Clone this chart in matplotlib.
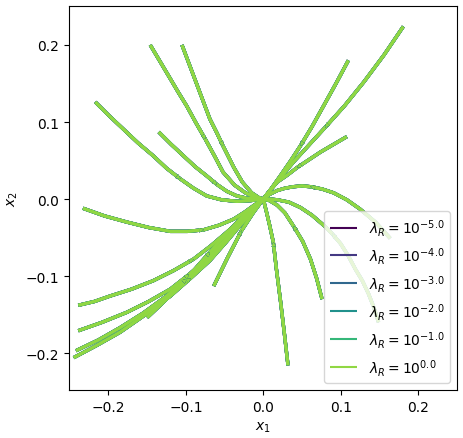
import numpy as np
from matplotlib import pyplot as plt

# exponents of lambda_R, one colour each
EXPONENTS = [-5.0, -4.0, -3.0, -2.0, -1.0, 0.0]

# trajectories, from starting point to the origin
traj_x = [
    [-0.146, -0.133, -0.120, -0.110, -0.099, -0.087, -0.075, -0.063, -0.052, -0.037, -0.023, -0.010, 0.0],
    [-0.105, -0.096, -0.087, -0.078, -0.069, -0.060, -0.052, -0.045, -0.038, -0.027, -0.015, -0.006, 0.0],
    [-0.217, -0.199, -0.181, -0.162, -0.142, -0.125, -0.107, -0.090, -0.073, -0.054, -0.034, -0.016, 0.0],
    [-0.135, -0.119, -0.103, -0.088, -0.073, -0.060, -0.047, -0.034, -0.021, -0.010, 0.0],
    [-0.233, -0.205, -0.176, -0.148, -0.120, -0.098, -0.077, -0.057, -0.038, -0.024, -0.013, 0.0],
    [-0.239, -0.218, -0.198, -0.170, -0.142, -0.116, -0.090, -0.068, -0.047, -0.030, -0.017, 0.0],
    [-0.239, -0.208, -0.176, -0.148, -0.120, -0.096, -0.073, -0.053, -0.034, -0.016, 0.0],
    [-0.242, -0.213, -0.185, -0.155, -0.125, -0.099, -0.073, -0.051, -0.030, -0.014, 0.0],
    [-0.245, -0.215, -0.185, -0.152, -0.120, -0.094, -0.069, -0.048, -0.028, -0.013, 0.0],
    [-0.150, -0.131, -0.112, -0.090, -0.069, -0.049, -0.030, -0.014, 0.0],
    [-0.064, -0.046, -0.028, -0.013, 0.0],
    [0.181, 0.156, 0.130, 0.105, 0.080, 0.059, 0.039, 0.019, 0.0],
    [0.110, 0.094, 0.078, 0.063, 0.048, 0.035, 0.022, 0.010, 0.0],
    [0.108, 0.091, 0.074, 0.059, 0.044, 0.031, 0.018, 0.008, 0.0],
    [0.164, 0.145, 0.125, 0.108, 0.091, 0.076, 0.061, 0.050, 0.039, 0.028, 0.018, 0.008, 0.0],
    [0.149, 0.143, 0.136, 0.128, 0.119, 0.110, 0.100, 0.089, 0.078, 0.063, 0.048, 0.033, 0.018, 0.008, 0.0],
    [0.076, 0.069, 0.061, 0.051, 0.039, 0.028, 0.018, 0.008, 0.0],
    [0.032, 0.027, 0.022, 0.017, 0.013, 0.008, 0.004, 0.0],
]
traj_y = [
    [0.200, 0.178, 0.156, 0.139, 0.121, 0.099, 0.078, 0.056, 0.035, 0.018, 0.008, 0.002, 0.0],
    [0.200, 0.176, 0.152, 0.128, 0.104, 0.086, 0.069, 0.055, 0.041, 0.022, 0.008, 0.002, 0.0],
    [0.126, 0.108, 0.091, 0.073, 0.056, 0.040, 0.026, 0.014, 0.004, -0.001, -0.003, -0.002, 0.0],
    [0.087, 0.071, 0.056, 0.042, 0.030, 0.019, 0.010, 0.004, 0.001, 0.0, 0.0],
    [-0.012, -0.022, -0.030, -0.037, -0.042, -0.042, -0.040, -0.034, -0.026, -0.017, -0.009, 0.0],
    [-0.138, -0.133, -0.126, -0.117, -0.106, -0.093, -0.078, -0.061, -0.043, -0.028, -0.015, 0.0],
    [-0.171, -0.160, -0.147, -0.133, -0.117, -0.098, -0.078, -0.057, -0.035, -0.016, 0.0],
    [-0.197, -0.183, -0.167, -0.148, -0.126, -0.104, -0.082, -0.057, -0.032, -0.015, 0.0],
    [-0.206, -0.190, -0.173, -0.150, -0.126, -0.103, -0.080, -0.056, -0.032, -0.015, 0.0],
    [-0.154, -0.136, -0.117, -0.093, -0.069, -0.047, -0.026, -0.011, 0.0],
    [-0.113, -0.076, -0.041, -0.018, 0.0],
    [0.224, 0.187, 0.152, 0.121, 0.093, 0.070, 0.048, 0.024, 0.0],
    [0.180, 0.150, 0.121, 0.094, 0.069, 0.049, 0.030, 0.013, 0.0],
    [0.081, 0.071, 0.061, 0.051, 0.041, 0.031, 0.022, 0.010, 0.0],
    [-0.051, -0.030, -0.013, -0.001, 0.008, 0.013, 0.016, 0.017, 0.016, 0.014, 0.011, 0.006, 0.0],
    [-0.160, -0.141, -0.123, -0.106, -0.091, -0.074, -0.058, -0.045, -0.034, -0.021, -0.011, -0.004, -0.001, 0.0, 0.0],
    [-0.130, -0.103, -0.078, -0.055, -0.035, -0.018, -0.008, -0.002, 0.0],
    [-0.216, -0.172, -0.130, -0.091, -0.056, -0.033, -0.016, 0.0],
]

fig = plt.figure(figsize=(4.64, 4.39), dpi=100)
ax = fig.add_axes([0.1487, 0.1093, 0.8356, 0.8754])

cmap = plt.get_cmap("viridis")
for k, e in enumerate(EXPONENTS):
    color = cmap(k / len(EXPONENTS))
    label = r"$\lambda_R = 10^{%.1f}$" % e
    for i, (xs, ys) in enumerate(zip(traj_x, traj_y)):
        ax.plot(xs, ys, color=color, lw=2.4, solid_joinstyle="round",
                solid_capstyle="butt", label=label if i == 0 else None)
        m = len(xs) // 2
        ax.annotate("", xy=(xs[m], ys[m]), xytext=(xs[m - 1], ys[m - 1]),
                    arrowprops=dict(arrowstyle="-|>", color=color, lw=0,
                                    mutation_scale=8, shrinkA=0, shrinkB=0))

ax.set_xlim(-0.251, 0.25)
ax.set_ylim(-0.248, 0.251)
ax.set_xticks([-0.2, -0.1, 0.0, 0.1, 0.2])
ax.set_yticks([-0.2, -0.1, 0.0, 0.1, 0.2])
ax.set_xlabel(r"$x_1$")
ax.set_ylabel(r"$x_2$")
leg = ax.legend(loc="lower right", fontsize=10)
for h in leg.get_lines():
    h.set_linewidth(1.5)

plt.savefig("out.png", dpi=100)
